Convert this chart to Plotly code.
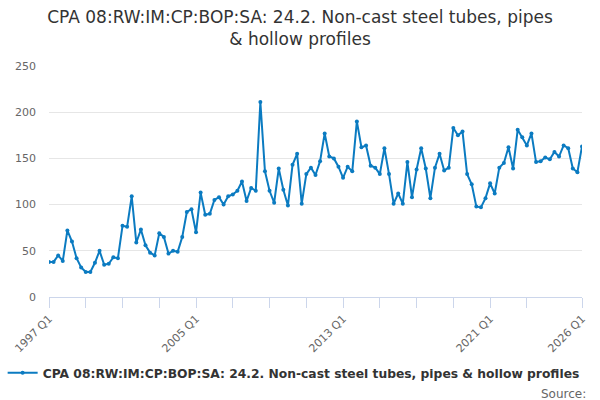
import plotly.graph_objects as go

# quarterly series, 1997 Q1 .. 2026 Q1
quarters = [f"{y} Q{q}" for y in range(1997, 2027) for q in range(1, 5)][:117]

values = [
    38, 38, 45, 39, 72, 60, 42, 32, 27, 27, 37, 50, 35, 36, 43, 42,
    77, 76, 109, 59, 73, 56, 48, 45, 69, 65, 47, 50, 49, 65, 92, 95,
    70, 113, 89, 90, 105, 108, 100, 109, 111, 115, 125, 104, 118, 115, 211, 136,
    115, 102, 139, 116, 99, 143, 155, 101, 133, 140, 132, 147, 177, 152, 150, 141,
    129, 141, 136, 190, 162, 164, 142, 140, 133, 161, 133, 101, 112, 101, 146, 108,
    138, 161, 139, 107, 140, 155, 137, 140, 183, 175, 179, 133, 122, 98, 97, 107,
    123, 112, 140, 145, 162, 139, 181, 173, 164, 177, 146, 147, 151, 149, 157, 152,
    164, 161, 139, 135, 163,
]

series_name = "CPA 08:RW:IM:CP:BOP:SA: 24.2. Non-cast steel tubes, pipes & hollow profiles"
title_text = "CPA 08:RW:IM:CP:BOP:SA: 24.2. Non-cast steel tubes, pipes<br>& hollow profiles"

# tick marks every 8 quarters plus the last one, labels only on some
tick_idx = list(range(0, 105, 8)) + [116]
labelled = {"1997 Q1", "2005 Q1", "2013 Q1", "2021 Q1", "2026 Q1"}
tick_vals = [quarters[i] for i in tick_idx]
tick_text = [q if q in labelled else "" for q in tick_vals]

y_ticks = [0, 50, 100, 150, 200, 250]

FONT = "DejaVu Sans"
LINE = "#0b7bc1"

fig = go.Figure()
fig.add_trace(go.Scatter(
    x=quarters,
    y=values,
    mode="lines+markers",
    name=series_name,
    line=dict(color=LINE, width=2),
    marker=dict(color=LINE, size=4),
    showlegend=True,
))

fig.update_layout(
    width=600,
    height=400,
    paper_bgcolor="white",
    plot_bgcolor="white",
    margin=dict(l=47, r=18, t=66, b=103),
    font=dict(family=FONT, color="#666666"),
    title=dict(
        text=title_text,
        x=0.5,
        xanchor="center",
        y=0.9425,
        yanchor="top",
        font=dict(family=FONT, size=17, color="#333333"),
    ),
    xaxis=dict(
        type="category",
        range=[0, 116],
        tickmode="array",
        tickvals=tick_vals,
        ticktext=tick_text,
        tickangle=-45,
        ticks="outside",
        ticklen=10,
        tickcolor="#ccd6eb",
        tickfont=dict(size=11, color="#666666"),
        showgrid=False,
        showline=True,
        linecolor="#ccd6eb",
        linewidth=1,
        zeroline=False,
    ),
    yaxis=dict(
        range=[0, 250],
        tickmode="array",
        tickvals=y_ticks,
        showgrid=True,
        gridcolor="#e6e6e6",
        gridwidth=1,
        zeroline=False,
        showline=False,
        ticks="",
        ticklabelstandoff=12,
        tickfont=dict(size=11, color="#666666"),
    ),
    legend=dict(
        orientation="h",
        x=0.459,
        xanchor="center",
        y=-0.265,
        yanchor="top",
        font=dict(family=FONT, size=12.3, color="#333333", weight="bold"),
        itemwidth=30,
    ),
    annotations=[
        dict(
            text="Source:",
            xref="paper",
            yref="paper",
            x=1.012,
            y=-0.422,
            xanchor="right",
            yanchor="middle",
            showarrow=False,
            font=dict(family=FONT, size=12, color="#666666"),
        )
    ],
)

# the page's default body margin would push the 600x400 figure off the window
fig.write_html(
    "out.html",
    config={"displayModeBar": False},
    post_script="document.body.style.margin='0';",
)
